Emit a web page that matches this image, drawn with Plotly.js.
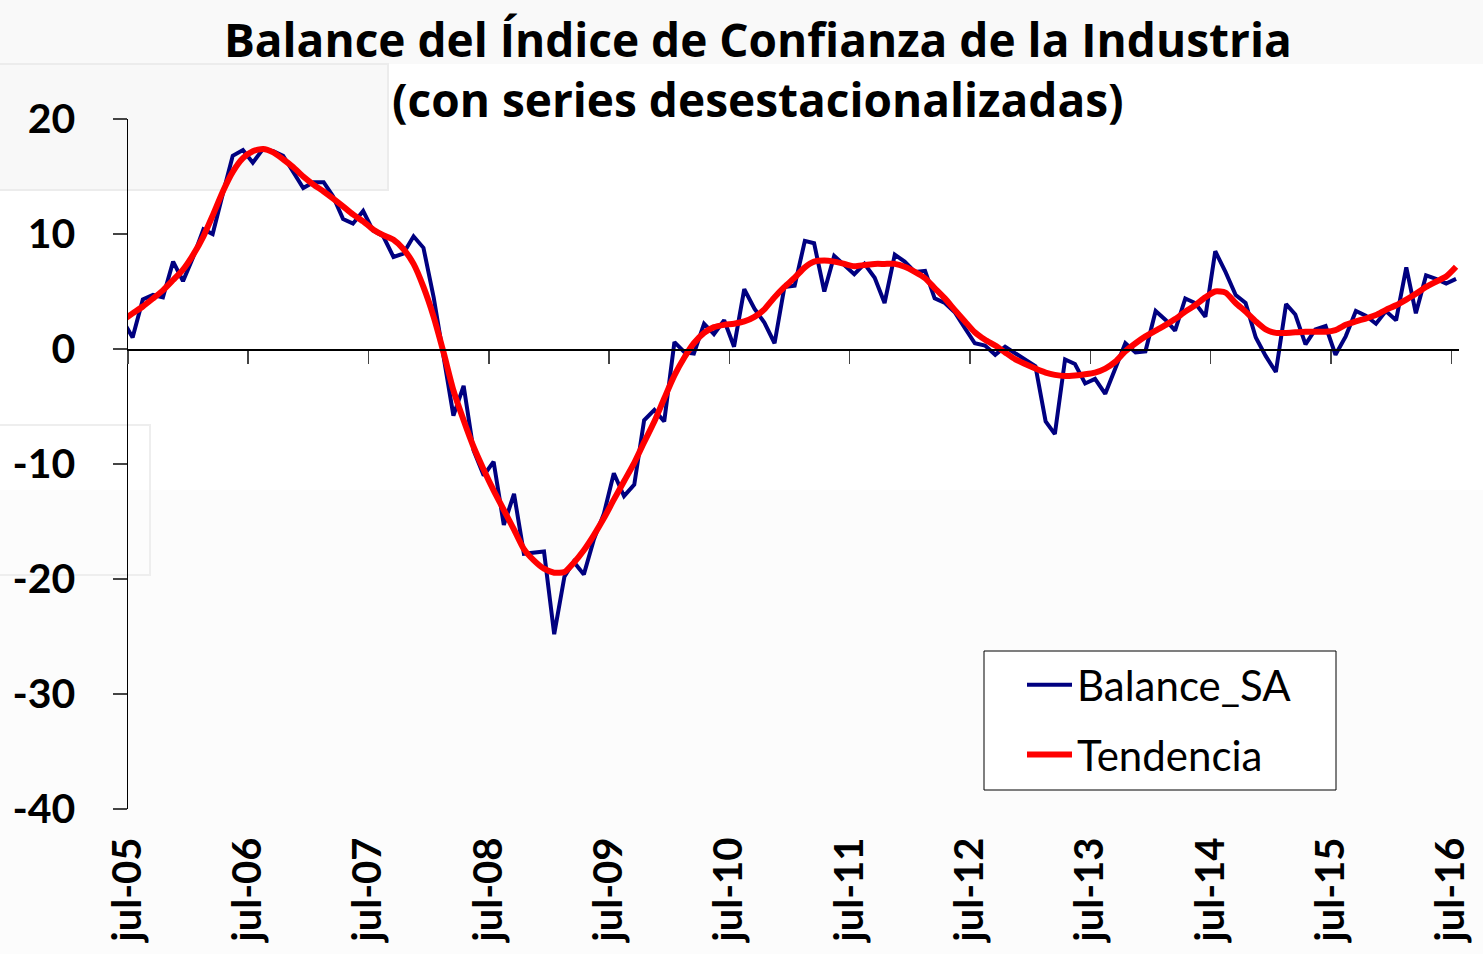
<!DOCTYPE html>
<html>
<head>
<meta charset="utf-8">
<script src="https://cdn.plot.ly/plotly-3.0.1.min.js"></script>
<style>html,body{margin:0;padding:0;background:#fff;}#chart{width:1483px;height:954px;}</style>
</head>
<body>
<div id="chart"></div>
<script>
// Monthly series, jun-05 .. jul-16
var startYear = 2005, startMonth = 6; // June 2005
var balanceSA = [
  2.5, 1.0, 4.3, 4.7, 4.5, 7.6, 5.9, 8.0, 10.4, 10.0, 13.5, 16.8,
  17.3, 16.2, 17.4, 17.2, 16.8, 15.4, 14.0, 14.5, 14.5, 13.3, 11.3, 10.9,
  12.0, 10.3, 9.8, 8.0, 8.3, 9.8, 8.8, 4.5, -0.8, -5.8, -3.2, -8.8,
  -11.0, -9.8, -15.3, -12.6, -17.8, -17.7, -17.6, -24.8, -19.8, -18.5, -19.6, -16.6,
  -14.3, -10.8, -12.8, -11.8, -6.2, -5.3, -6.3, 0.6, -0.3, -0.4, 2.2, 1.3,
  2.5, 0.2, 5.2, 3.5, 2.3, 0.5, 5.4, 5.5, 9.4, 9.2, 5.0, 8.1,
  7.3, 6.5, 7.4, 6.2, 4.0, 8.2, 7.6, 6.7, 6.8, 4.4, 4.0, 3.2,
  1.8, 0.5, 0.3, -0.5, 0.2, -0.4, -1.0, -1.5, -6.3, -7.4, -0.9, -1.3,
  -3.0, -2.6, -3.9, -1.6, 0.5, -0.3, -0.2, 3.3, 2.5, 1.6, 4.4, 4.0,
  2.8, 8.5, 6.7, 4.7, 4.0, 1.0, -0.6, -2.0, 3.9, 3.0, 0.4, 1.7,
  2.0, -0.5, 1.1, 3.3, 2.9, 2.2, 3.3, 2.5, 7.1, 3.1, 6.4, 6.1,
  5.7, 6.1
];
var tendencia = [
  2.5, 3.1, 3.7, 4.4, 5.1, 6.0, 6.9, 8.2, 9.8, 11.6, 13.7, 15.4,
  16.6, 17.2, 17.4, 17.1, 16.5, 15.8, 15.0, 14.3, 13.7, 13.1, 12.4, 11.7,
  11.1, 10.4, 9.9, 9.5, 8.7, 7.4, 5.4, 2.8, -0.4, -3.6, -6.2, -8.5,
  -10.5, -12.3, -14.0, -15.7, -17.4, -18.4, -19.1, -19.45, -19.4, -18.6, -17.5, -16.2,
  -14.7, -13.1, -11.5, -9.9, -8.1, -6.3, -4.3, -2.3, -0.7, 0.5, 1.4, 1.9,
  2.1, 2.2, 2.4, 2.8, 3.45, 4.5, 5.4, 6.2, 7.1, 7.6, 7.7, 7.6,
  7.4, 7.2, 7.3, 7.4, 7.4, 7.4, 7.15, 6.7, 6.15, 5.3, 4.4, 3.4,
  2.4, 1.45, 0.8, 0.3, -0.3, -0.9, -1.3, -1.7, -2.05, -2.25, -2.35, -2.3,
  -2.2, -2.05, -1.7, -1.1, -0.2, 0.5, 1.1, 1.6, 2.1, 2.6, 3.25, 3.8,
  4.5, 5.0, 4.9, 4.0, 3.25, 2.4, 1.7, 1.4, 1.4, 1.45, 1.5, 1.5,
  1.5, 1.65, 2.1, 2.4, 2.65, 2.95, 3.4, 3.8, 4.3, 4.8, 5.4, 5.85,
  6.3, 7.15
];
var tickYears = [2005, 2006, 2007, 2008, 2009, 2010, 2011, 2012, 2013, 2014, 2015, 2016];
var tickLabels = ['jul-05','jul-06','jul-07','jul-08','jul-09','jul-10','jul-11','jul-12','jul-13','jul-14','jul-15','jul-16'];
var yTicks = [20, 10, 0, -10, -20, -30, -40];
var yTickLabels = ['20', '10', '0', '-10', '-20', '-30', '-40'];
var seriesNames = ['Balance_SA', 'Tendencia'];

function pad(n){ return (n < 10 ? '0' : '') + n; }
var months = [];
for (var i = 0; i < balanceSA.length; i++) {
  var m = startMonth - 1 + i;
  var yy = startYear + Math.floor(m / 12);
  var mm = (m % 12) + 1;
  months.push(yy + '-' + pad(mm) + '-15');
}
var tickVals = tickYears.map(function(y){ return y + '-07-01'; });

var FONT = 'Lato, "Open Sans", "DejaVu Sans", sans-serif';
var TFONT = '"Open Sans", Lato, "DejaVu Sans", sans-serif';

var traces = [
  {x: months, y: balanceSA, type: 'scatter', mode: 'lines', name: seriesNames[0],
   legendgroup: 'a', line: {color: '#000080', width: 4}},
  {x: months, y: tendencia, type: 'scatter', mode: 'lines', name: seriesNames[1],
   legendgroup: 'b', line: {color: '#ff0000', width: 6, shape: 'spline', smoothing: 0.6}}
];

// helpers: pixel -> paper (plot area 128..1459 x, 119..809 y)
function px(v){ return (v - 128) / 1331; }
function py(v){ return (809 - v) / 690; }

var layout = {
  width: 1483, height: 954,
  paper_bgcolor: '#ffffff', plot_bgcolor: 'rgba(0,0,0,0)',
  margin: {l: 128, r: 24, t: 119, b: 145, pad: 0},
  showlegend: true,
  title: {
    text: 'Balance del Índice de Confianza de la Industria<br>(con series desestacionalizadas)',
    font: {family: TFONT, size: 46, color: '#000', weight: 'bold'},
    x: 0.511, xanchor: 'center', y: 0.94, yanchor: 'top', yref: 'container'
  },
  shapes: [
    {type: 'rect', xref: 'paper', yref: 'paper', layer: 'below',
     x0: px(0), x1: px(1483), y0: py(490), y1: py(954),
     fillcolor: '#fcfcfc', line: {width: 0}},
    {type: 'rect', xref: 'paper', yref: 'paper', layer: 'below',
     x0: px(0), x1: px(1483), y0: py(64), y1: py(0),
     fillcolor: '#f9f9f9', line: {width: 0}},
    {type: 'rect', xref: 'paper', yref: 'paper', layer: 'below',
     x0: px(-2), x1: px(388), y0: py(190), y1: py(64),
     fillcolor: '#f8f8f8', line: {color: '#ececec', width: 2}},
    {type: 'rect', xref: 'paper', yref: 'paper', layer: 'below',
     x0: px(-2), x1: px(150), y0: py(575), y1: py(425),
     fillcolor: 'rgba(0,0,0,0)', line: {color: '#eeeeee', width: 2}},
    {type: 'rect', xref: 'paper', yref: 'paper', layer: 'below',
     x0: px(984), x1: px(1336), y0: py(790), y1: py(651),
     fillcolor: '#ffffff', line: {color: '#000', width: 1}}
  ],
  xaxis: {
    type: 'date',
    range: ['2005-07-01', '2016-07-24'],
    tickvals: tickVals, ticktext: tickLabels,
    tickangle: -90,
    anchor: 'free', position: 2/3,
    showline: true, linecolor: '#000', linewidth: 1.5,
    ticks: 'outside', ticklen: 13, tickwidth: 1.5, tickcolor: '#444',
    ticklabelstandoff: 458,
    showgrid: false, zeroline: false,
    tickfont: {family: FONT, size: 40, color: '#000', weight: 'bold'}
  },
  yaxis: {
    range: [-40, 20],
    tickvals: yTicks, ticktext: yTickLabels,
    showline: true, linecolor: '#000', linewidth: 1.5,
    ticks: 'outside', ticklen: 14, tickwidth: 1.5, tickcolor: '#444',
    ticklabelstandoff: 29,
    showgrid: false, zeroline: false,
    tickfont: {family: FONT, size: 41, color: '#000', weight: 'bold'}
  },
  legend: {
    x: px(1022), y: py(651), xanchor: 'left', yanchor: 'top',
    borderwidth: 0, bgcolor: 'rgba(0,0,0,0)',
    font: {family: FONT, size: 42, color: '#000'},
    traceorder: 'grouped', tracegroupgap: 12,
    itemwidth: 45
  }
};

Plotly.newPlot('chart', traces, layout, {displayModeBar: false, staticPlot: true});
</script>
</body>
</html>
